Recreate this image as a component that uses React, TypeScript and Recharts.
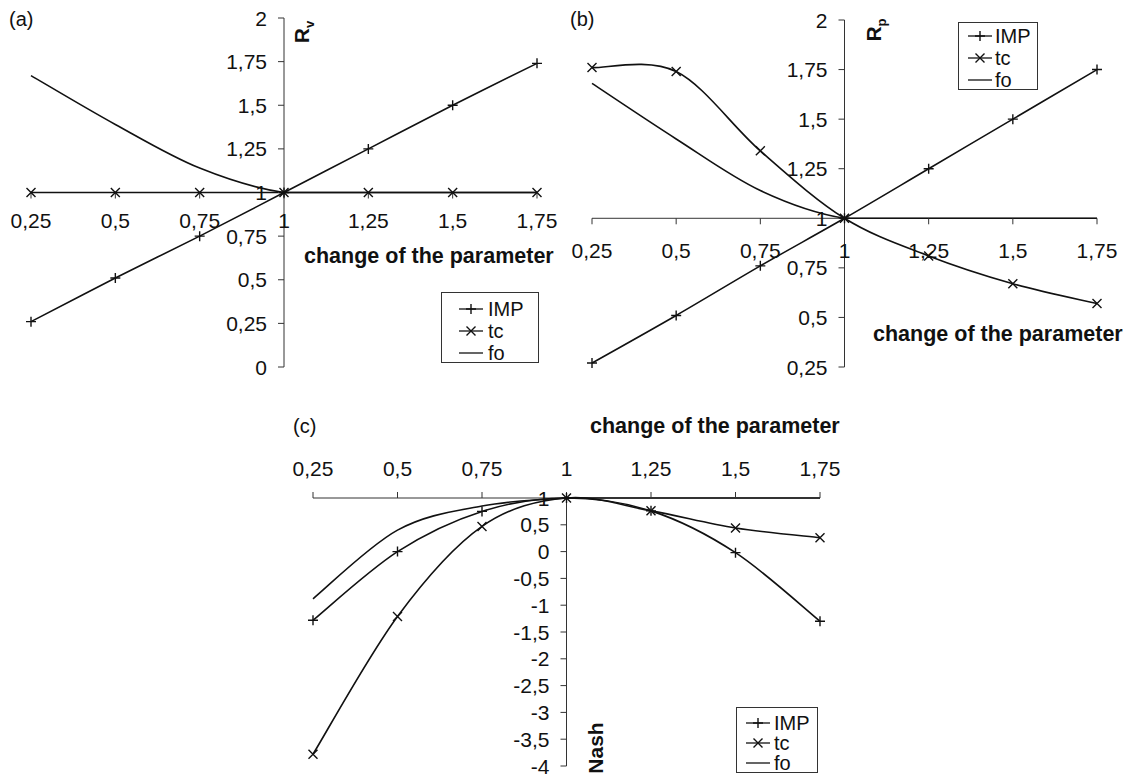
import React from 'react';
import { LineChart, Line, XAxis, YAxis, ReferenceLine, ReferenceDot, Legend } from 'recharts';

const FONT = '"Liberation Sans", Arial, Helvetica, sans-serif';
const INK = '#111';
const AXIS_INK = '#333';

// relative change of the parameter (category axis)
const params = [0.25, 0.5, 0.75, 1, 1.25, 1.5, 1.75];

// (a) R_v
const impA = [0.26, 0.51, 0.75, 1, 1.25, 1.5, 1.74];
const tcA = [1, 1, 1, 1, 1, 1, 1];
const foA = [1.67, 1.39, 1.14, 1, 1, 1, 1];
const yTicksA = [0, 0.25, 0.5, 0.75, 1, 1.25, 1.5, 1.75, 2];

// (b) R_p
const impB = [0.27, 0.51, 0.76, 1, 1.25, 1.5, 1.75];
const tcB = [1.76, 1.74, 1.34, 1, 0.81, 0.67, 0.57];
const foB = [1.68, 1.4, 1.14, 1, 1, 1, 1];
const yTicksB = [0.25, 0.5, 0.75, 1, 1.25, 1.5, 1.75, 2];

// (c) Nash
const impC = [-1.28, 0, 0.75, 1, 0.76, -0.02, -1.3];
const tcC = [-3.78, -1.21, 0.47, 1, 0.76, 0.44, 0.26];
const foC = [-0.88, 0.4, 0.85, 1, 1, 1, 1];
const yTicksC = [-4, -3.5, -3, -2.5, -2, -1.5, -1, -0.5, 0, 0.5, 1];

const SERIES = [
  { key: 'imp', name: 'IMP', marker: 'plus' },
  { key: 'tc', name: 'tc', marker: 'cross' },
  { key: 'fo', name: 'fo', marker: null },
];

const rows = (imp: number[], tc: number[], fo: number[]) =>
  params.map((p, i) => ({ p, imp: imp[i], tc: tc[i], fo: fo[i] }));

const fmt = (v: number) => String(v).replace('.', ',');

// Excel-style smoothed line (Catmull-Rom through the points, flat runs kept straight)
const smooth = (context: any) => {
  let pts: [number, number][] = [];
  return {
    areaStart() {},
    areaEnd() {},
    lineStart() {
      pts = [];
    },
    lineEnd() {
      if (!pts.length) return;
      context.moveTo(pts[0][0], pts[0][1]);
      for (let i = 0; i < pts.length - 1; i++) {
        const p0 = pts[Math.max(i - 1, 0)];
        const p1 = pts[i];
        const p2 = pts[i + 1];
        const p3 = pts[Math.min(i + 2, pts.length - 1)];
        if (Math.abs(p1[1] - p2[1]) < 0.01) {
          context.lineTo(p2[0], p2[1]);
          continue;
        }
        context.bezierCurveTo(
          p1[0] + (p2[0] - p0[0]) / 6,
          p1[1] + (p2[1] - p0[1]) / 6,
          p2[0] - (p3[0] - p1[0]) / 6,
          p2[1] - (p3[1] - p1[1]) / 6,
          p2[0],
          p2[1]
        );
      }
    },
    point(x: number, y: number) {
      pts.push([x, y]);
    },
  };
};

const Marker = ({ kind, cx, cy }: { kind: string | null; cx: number; cy: number }) => {
  if (cx == null || cy == null) return null;
  if (kind === 'plus') {
    const s = 5;
    return <path d={`M${cx - s},${cy}H${cx + s}M${cx},${cy - s}V${cy + s}`} stroke={INK} strokeWidth={1.4} fill="none" />;
  }
  if (kind === 'cross') {
    const s = 4.5;
    return (
      <path
        d={`M${cx - s},${cy - s}L${cx + s},${cy + s}M${cx - s},${cy + s}L${cx + s},${cy - s}`}
        stroke={INK}
        strokeWidth={1.4}
        fill="none"
      />
    );
  }
  return null;
};

type LegendBox = { left: number; top: number; width: number; height: number; padLeft: number; padTop: number; rowH: number; gap: number };

// legend rows follow the series order, not the alphabetical payload order
const legendContent = (box: LegendBox) => (props: any) => {
  const payload = props.payload || [];
  return (
    <div
      style={{
        width: box.width,
        height: box.height,
        boxSizing: 'border-box',
        border: `1px solid ${AXIS_INK}`,
        background: '#fff',
        paddingTop: box.padTop,
        paddingLeft: box.padLeft,
        fontFamily: FONT,
        fontSize: 20,
        color: INK,
      }}
    >
      {SERIES.filter((s) => payload.some((e: any) => e.value === s.name)).map((s) => (
        <div key={s.name} style={{ display: 'flex', alignItems: 'center', height: box.rowH }}>
          <svg width={24} height={box.rowH} style={{ display: 'block' }}>
            <line x1={0} x2={24} y1={box.rowH / 2} y2={box.rowH / 2} stroke={INK} strokeWidth={1.3} />
            <Marker kind={s.marker} cx={12} cy={box.rowH / 2} />
          </svg>
          <span style={{ marginLeft: box.gap, lineHeight: `${box.rowH}px` }}>{s.name}</span>
        </div>
      ))}
    </div>
  );
};

type PanelProps = {
  data: any[];
  yDomain: [number, number];
  yTicks: number[];
  pos: { left: number; top: number; width: number; height: number };
  margin: { top: number; right: number; bottom: number; left: number };
  xLabelOffset: number;
  legend: LegendBox;
  letter: { text: string; x: number; y: number };
  title: { x: number; y: number };
  yTitle: { text: string; sub?: string; x: number; y: number };
};

const Panel = ({ data, yDomain, yTicks, pos, margin, xLabelOffset, legend, letter, title, yTitle }: PanelProps) => {
  const tickDir = Math.sign(xLabelOffset);
  return (
    <div style={{ position: 'absolute', left: pos.left, top: pos.top }}>
      <LineChart width={pos.width} height={pos.height} data={data} margin={margin}>
        <XAxis dataKey="p" type="number" domain={[0.25, 1.75]} hide />
        <YAxis type="number" domain={yDomain} hide />
        <ReferenceLine x={1} stroke={AXIS_INK} strokeWidth={1} />
        <ReferenceLine y={1} stroke={AXIS_INK} strokeWidth={1} />
        {yTicks.map((v) => (
          <ReferenceDot
            key={`y${v}`}
            x={1}
            y={v}
            r={0}
            shape={(p: any) => (
              <g>
                <line x1={p.cx - 6} x2={p.cx} y1={p.cy} y2={p.cy} stroke={AXIS_INK} />
                <text x={p.cx - 17} y={p.cy} textAnchor="end" dominantBaseline="central" fontFamily={FONT} fontSize={21} fill={INK}>
                  {fmt(v)}
                </text>
              </g>
            )}
          />
        ))}
        {params.map((v) => (
          <ReferenceDot
            key={`x${v}`}
            x={v}
            y={1}
            r={0}
            shape={(p: any) => (
              <g>
                <line x1={p.cx} x2={p.cx} y1={p.cy} y2={p.cy + 6 * tickDir} stroke={AXIS_INK} />
                <text x={p.cx} y={p.cy + xLabelOffset} textAnchor="middle" dominantBaseline="central" fontFamily={FONT} fontSize={21} fill={INK}>
                  {fmt(v)}
                </text>
              </g>
            )}
          />
        ))}
        {SERIES.map((s) => (
          <Line
            key={s.key}
            dataKey={s.key}
            name={s.name}
            type={smooth as any}
            stroke={INK}
            strokeWidth={1.6}
            isAnimationActive={false}
            activeDot={false}
            dot={s.marker ? (p: any) => <Marker key={`${s.key}-${p.index}`} kind={s.marker} cx={p.cx} cy={p.cy} /> : false}
          />
        ))}
        <Legend
          layout="vertical"
          align="center"
          verticalAlign="middle"
          wrapperStyle={{ left: legend.left, top: legend.top, width: legend.width, height: legend.height }}
          content={legendContent(legend)}
        />
        <text x={letter.x} y={letter.y} fontFamily={FONT} fontSize={20} fill={INK}>
          {letter.text}
        </text>
        <text x={title.x} y={title.y} fontFamily={FONT} fontSize={21.5} fontWeight="bold" fill={INK}>
          change of the parameter
        </text>
        <text
          x={yTitle.x}
          y={yTitle.y}
          transform={`rotate(-90 ${yTitle.x} ${yTitle.y})`}
          textAnchor="middle"
          fontFamily={FONT}
          fontSize={21}
          fontWeight="bold"
          fill={INK}
        >
          {yTitle.text}
          {yTitle.sub ? (
            <tspan dy={5} fontSize={13}>
              {yTitle.sub}
            </tspan>
          ) : null}
        </text>
      </LineChart>
    </div>
  );
};

export default function App() {
  return (
    <div style={{ position: 'absolute', left: 0, top: 0, width: 1128, height: 780, background: '#fff' }}>
      <Panel
        data={rows(impA, tcA, foA)}
        yDomain={[0, 2]}
        yTicks={yTicksA}
        pos={{ left: 0, top: 0, width: 560, height: 380 }}
        margin={{ top: 18, right: 23, bottom: 13, left: 31 }}
        xLabelOffset={28}
        legend={{ left: 441, top: 292, width: 98, height: 71, padLeft: 17, padTop: 5, rowH: 22, gap: 5 }}
        letter={{ text: '(a)', x: 9, y: 26 }}
        title={{ x: 304, y: 263 }}
        yTitle={{ text: 'R', sub: 'v', x: 309, y: 32 }}
      />
      <Panel
        data={rows(impB, tcB, foB)}
        yDomain={[0.25, 2]}
        yTicks={yTicksB}
        pos={{ left: 560, top: 0, width: 568, height: 390 }}
        margin={{ top: 20, right: 31, bottom: 23, left: 32 }}
        xLabelOffset={32}
        legend={{ left: 398, top: 22, width: 80, height: 68, padLeft: 9, padTop: 2, rowH: 22, gap: 3 }}
        letter={{ text: '(b)', x: 10, y: 26 }}
        title={{ x: 313, y: 341 }}
        yTitle={{ text: 'R', sub: 'p', x: 321, y: 30 }}
      />
      <Panel
        data={rows(impC, tcC, foC)}
        yDomain={[-4, 1]}
        yTicks={yTicksC}
        pos={{ left: 250, top: 390, width: 620, height: 390 }}
        margin={{ top: 108, right: 50, bottom: 14, left: 63 }}
        xLabelOffset={-30}
        legend={{ left: 486, top: 317, width: 82, height: 66, padLeft: 9, padTop: 5, rowH: 20, gap: 4 }}
        letter={{ text: '(c)', x: 43, y: 43 }}
        title={{ x: 340, y: 43 }}
        yTitle={{ text: 'Nash', x: 353, y: 358 }}
      />
    </div>
  );
}
